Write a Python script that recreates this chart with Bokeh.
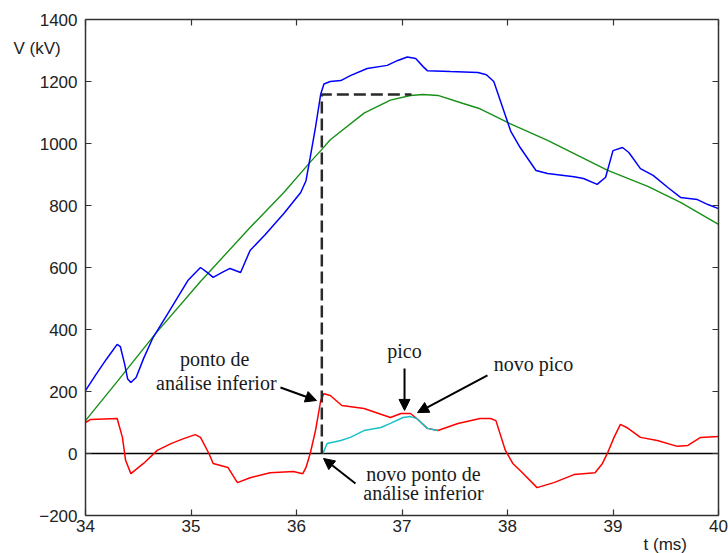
from bokeh.plotting import figure
from bokeh.models import Range1d, LinearAxis, Label, Arrow, NormalHead, Span, FixedTicker
from bokeh.embed import file_html
from bokeh.resources import INLINE

# ---------------- data ----------------
t_blue = [34.00, 34.10, 34.20, 34.30, 34.33, 34.37, 34.40, 34.43, 34.48, 34.55, 34.64, 34.78,
          34.97, 35.09, 35.15, 35.21, 35.30, 35.37, 35.47, 35.56, 35.70, 35.88, 36.04, 36.09,
          36.13, 36.18, 36.23, 36.26, 36.32, 36.42, 36.51, 36.67, 36.86, 36.96, 37.05, 37.13,
          37.20, 37.24, 37.46, 37.72, 37.80, 37.87, 37.95, 38.03, 38.12, 38.27, 38.38, 38.63,
          38.72, 38.85, 38.93, 39.00, 39.09, 39.15, 39.26, 39.38, 39.52, 39.64, 39.80, 39.90, 40.00]
v_blue = [203, 255, 305, 352, 345, 290, 240, 229, 245, 306, 374, 451,
          558, 600, 585, 568, 585, 597, 584, 655, 705, 774, 842, 880,
          955, 1052, 1160, 1192, 1200, 1203, 1219, 1242, 1252, 1268, 1279, 1274,
          1248, 1235, 1232, 1229, 1222, 1200, 1120, 1040, 987, 913, 903, 893,
          887, 868, 891, 977, 987, 971, 919, 897, 858, 826, 819, 803, 790]

t_green = [34.00, 34.30, 34.66, 35.09, 35.56, 35.88, 36.13, 36.23, 36.32, 36.64, 36.89, 37.08,
           37.20, 37.34, 37.58, 37.74, 38.00, 38.38, 38.95, 39.33, 39.64, 40.00]
v_green = [106, 232, 385, 555, 729, 842, 940, 977, 1012, 1098, 1140, 1155,
           1158, 1155, 1129, 1112, 1068, 1010, 913, 862, 810, 739]

t_red = [34.00, 34.05, 34.30, 34.35, 34.38, 34.43, 34.55, 34.68, 34.81, 34.93, 35.04, 35.09,
         35.17, 35.21, 35.35, 35.44, 35.56, 35.75, 35.97, 36.06, 36.09, 36.13, 36.18, 36.23,
         36.26, 36.32, 36.43, 36.64, 36.89, 36.99, 37.08, 37.14, 37.24, 37.34, 37.53, 37.74,
         37.84, 37.89, 37.98, 38.05, 38.12, 38.28, 38.44, 38.63, 38.83, 38.90, 38.95, 39.01,
         39.07, 39.13, 39.26, 39.42, 39.61, 39.71, 39.83, 40.00]
v_red = [100, 110, 113, 52, -22, -65, -32, 10, 32, 48, 61, 52,
         0, -32, -45, -94, -78, -62, -58, -65, -45, 0, 74, 171,
         193, 187, 155, 145, 116, 129, 129, 113, 81, 74, 97, 113,
         113, 106, 10, -32, -55, -110, -94, -68, -62, -32, 3, 52,
         94, 84, 52, 42, 23, 26, 52, 55]

t_cyan = [36.25, 36.29, 36.42, 36.51, 36.64, 36.80, 36.89, 37.01, 37.08, 37.14, 37.24, 37.34]
v_cyan = [0, 32, 42, 52, 74, 84, 97, 116, 119, 113, 81, 74]

t_dash = [36.24, 36.24, 37.09]
v_dash = [0, 1158, 1158]

x_ticks = [34, 35, 36, 37, 38, 39, 40]
y_ticks = [-200, 0, 200, 400, 600, 800, 1000, 1200, 1400]
x_lim = (34, 40)
y_lim = (-200, 1400)

# ---------------- figure ----------------
# the frame spans the whole canvas; the axes are pinned at the data box edges
W, H = 728, 553
box_l, box_r, box_t, box_b = 85, 718, 19, 515
xs = (x_lim[1] - x_lim[0]) / (box_r - box_l)
ys = (y_lim[1] - y_lim[0]) / (box_b - box_t)
xr = Range1d(x_lim[0] - box_l * xs, x_lim[1] + (W - box_r) * xs)
yr = Range1d(y_lim[0] - (H - box_b) * ys, y_lim[1] + box_t * ys)

p = figure(width=W, height=H, output_backend="svg", toolbar_location=None,
           x_range=xr, y_range=yr,
           min_border_left=0, min_border_right=0, min_border_top=0, min_border_bottom=0)
p.grid.visible = False
p.outline_line_color = None
p.background_fill_color = "white"
p.border_fill_color = "white"

tick_font = "Liberation Sans"

def style_axis(ax, show_labels):
    ax.major_tick_in = 6
    ax.major_tick_out = 0
    ax.minor_tick_line_color = None
    ax.axis_line_color = "#333333"
    ax.axis_line_width = 1.5
    ax.major_tick_line_color = "#333333"
    ax.major_tick_line_width = 1.2
    if show_labels:
        ax.major_label_text_font = tick_font
        ax.major_label_text_font_size = "17px"
        ax.major_label_text_color = "#222222"
    else:
        ax.major_label_text_font_size = "1px"
        ax.major_label_text_color = None

bx = p.xaxis[0]
bx.ticker = FixedTicker(ticks=x_ticks)
bx.bounds = x_lim
bx.fixed_location = y_lim[0]
bx.major_label_standoff = 4
style_axis(bx, True)

ly = p.yaxis[0]
ly.ticker = FixedTicker(ticks=y_ticks)
ly.bounds = y_lim
ly.fixed_location = x_lim[0]
ly.major_label_standoff = 8
style_axis(ly, True)

tx = LinearAxis(ticker=FixedTicker(ticks=x_ticks), bounds=x_lim, fixed_location=y_lim[1])
style_axis(tx, False)
p.add_layout(tx, "above")

ry = LinearAxis(ticker=FixedTicker(ticks=y_ticks), bounds=y_lim, fixed_location=x_lim[1])
style_axis(ry, False)
p.add_layout(ry, "right")

p.line(x_lim, [0, 0], line_color="black", line_width=1.6)

p.line(t_green, v_green, line_color="#189018", line_width=1.4)
p.line(t_blue, v_blue, line_color="#0000ff", line_width=1.5)
p.line(t_red, v_red, line_color="#ff0000", line_width=1.5)
p.line(t_cyan, v_cyan, line_color="#18c0c8", line_width=1.5)
p.line(t_dash, v_dash, line_color="#2a2a2a", line_width=2.5, line_dash="12 5")

# ---------------- labels ----------------
serif = "Liberation Serif"
def lab(x, y, txt):
    p.add_layout(Label(x=x, y=y, text=txt, text_font=serif, text_font_size="20px",
                       text_color="#1a1a1a", text_align="center", text_baseline="middle"))

lab(35.225, 306, "ponto de")
lab(35.24, 229, "análise inferior")
lab(37.024, 332, "pico")
lab(38.246, 290, "novo pico")
lab(37.204, -65, "novo ponto de")
lab(37.204, -129, "análise inferior")

p.add_layout(Label(x=33.318, y=1306, text="V (kV)", text_font=tick_font, text_font_size="17px",
                   text_color="#222222", text_align="left", text_baseline="middle"))
p.add_layout(Label(x=39.29, y=-293, text="t (ms)", text_font=tick_font, text_font_size="17px",
                   text_color="#222222", text_align="left", text_baseline="middle"))

arrows = [
    (35.848, 213, 36.19, 171),
    (37.024, 274, 37.024, 139),
    (37.81, 252, 37.147, 132),
    (36.559, -97, 36.256, -16),
]
for x0, y0, x1, y1 in arrows:
    p.add_layout(Arrow(x_start=x0, y_start=y0, x_end=x1, y_end=y1,
                       line_color="black", line_width=2,
                       end=NormalHead(size=11, fill_color="black", line_color="black")))

open("out.html", "w").write(file_html(p, INLINE))
